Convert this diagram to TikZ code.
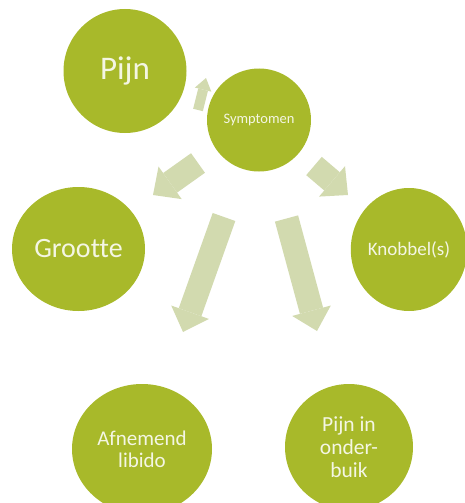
\documentclass[tikz,border=0pt]{standalone}
\usepackage{fontspec}
\setmainfont{Carlito}[Ligatures={NoCommon}]
\usetikzlibrary{shapes.geometric,arrows.meta}
\definecolor{bolgroen}{HTML}{A8B92A}
\definecolor{pijlgroen}{HTML}{D2DAAF}
\definecolor{tekstwit}{HTML}{F4F6E4}

\begin{document}
\begin{tikzpicture}[x=1pt, y=-1pt,
  bol/.style={ellipse, fill=bolgroen, text=tekstwit, inner sep=0pt, align=center},
  pijl/.style={color=pijlgroen, line width=24pt, -{Triangle[width=40pt,length=21pt,line width=0pt]}}]
\path[use as bounding box] (0,0) rectangle (465,503);
\clip (0,0) rectangle (465,503);
\node[bol, minimum width=123pt, minimum height=124pt, font=\fontsize{33}{36}\selectfont] (pijn) at (125,71) {Pijn};
\node[bol, minimum width=104pt, minimum height=103pt, font=\fontsize{14.5}{16}\selectfont] (symptomen) at (259,120) {Symptomen};
\node[bol, minimum width=133pt, minimum height=124pt, font=\fontsize{28}{30}\selectfont] (grootte) at (78.5,249) {Grootte};
\node[bol, minimum width=114pt, minimum height=123pt, font=\fontsize{19}{21}\selectfont] (knobbel) at (409,249.5) {Knobbel(s)};
\node[bol, minimum width=140pt, minimum height=130pt, font=\fontsize{21}{22}\selectfont] (libido) at (142,449) {Afnemend\\libido};
\node[bol, minimum width=128pt, minimum height=126pt, font=\fontsize{21.5}{23}\selectfont] (onderbuik) at (349,447) {Pijn in\\onder-\\buik};
\coordinate (s1) at (198,110); \coordinate (e1) at (206,78);
\coordinate (s2) at (198,163); \coordinate (e2) at (153,195);
\coordinate (s3) at (314,166); \coordinate (e3) at (348,195);
\coordinate (s4) at (224,217); \coordinate (e4) at (183,332);
\coordinate (s5) at (286.5,218.5); \coordinate (e5) at (317,331);
\draw[pijl, line width=10pt, -{Triangle[width=17pt,length=12pt,line width=0pt]}] (s1) -- (e1);
\draw[pijl] (s2) -- (e2);
\draw[pijl] (s3) -- (e3);
\draw[pijl] (s4) -- (e4);
\draw[pijl] (s5) -- (e5);
\end{tikzpicture}
\end{document}
